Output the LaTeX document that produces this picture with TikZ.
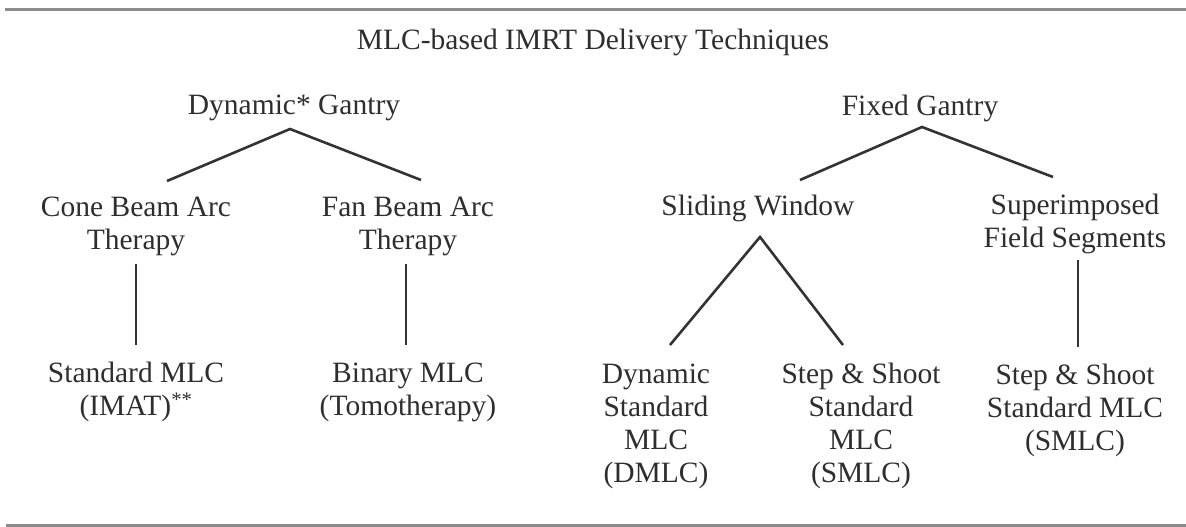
\documentclass[tikz,border=0pt]{standalone}
\usepackage{fontspec}
\setmainfont{Liberation Serif}
\begin{document}
\begin{tikzpicture}[x=1pt,y=-1pt,
  lbl/.style={inner sep=0pt,align=center,text=black!82,font=\fontsize{29.5}{33}\selectfont},
  conn/.style={draw=black!80,line width=2.6pt,line join=miter},
  rule/.style={draw=black!45,line width=3pt}]
\useasboundingbox (0,0) rectangle (1186,527);
% rules
\coordinate (rtl) at (5,10);
\coordinate (rtr) at (1186,10);
\coordinate (rbl) at (6,525);
\coordinate (rbr) at (1186,525);
\draw[rule] (rtl) -- (rtr);
\draw[rule] (rbl) -- (rbr);
% title
\node[lbl] (title) at (593,42) {MLC-based IMRT Delivery Techniques};
% level 1
\node[lbl] (dg) at (294,108) {Dynamic* Gantry};
\node[lbl] (fg) at (920,108) {Fixed Gantry};
% level 2
\node[lbl] (cb) at (136,226) {Cone Beam Arc\\Therapy};
\node[lbl] (fb) at (408,226) {Fan Beam Arc\\Therapy};
\node[lbl] (sw) at (758,208) {Sliding Window};
\node[lbl] (sf) at (1075,224) {Superimposed\\Field Segments};
% level 3
\node[lbl] (sm) at (136,392) {Standard MLC\\(IMAT)\textsuperscript{**}};
\node[lbl] (bm) at (408,392) {Binary MLC\\(Tomotherapy)};
\node[lbl] (dm) at (656,426) {Dynamic\\Standard\\MLC\\(DMLC)};
\node[lbl] (ss1) at (861,426) {Step \& Shoot\\Standard\\MLC\\(SMLC)};
\node[lbl] (ss2) at (1075,410) {Step \& Shoot\\Standard MLC\\(SMLC)};
% connector end points
\coordinate (dgA) at (290,129);
\coordinate (cbT) at (167,181);
\coordinate (fbT) at (421,180);
\coordinate (fgA) at (922,127);
\coordinate (swT) at (800,180);
\coordinate (sfT) at (1053,177);
\coordinate (swA) at (760,237);
\coordinate (dmT) at (670,345);
\coordinate (ss1T) at (843,345);
\coordinate (cbB) at (136,264);
\coordinate (smT) at (136,345);
\coordinate (fbB) at (406,264);
\coordinate (bmT) at (406,345);
\coordinate (sfB) at (1078,260);
\coordinate (ss2T) at (1078,347);
% connectors
\draw[conn] (cbT) -- (dgA) -- (fbT);
\draw[conn] (swT) -- (fgA) -- (sfT);
\draw[conn] (dmT) -- (swA) -- (ss1T);
\draw[conn] (cbB) -- (smT);
\draw[conn] (fbB) -- (bmT);
\draw[conn] (sfB) -- (ss2T);
\end{tikzpicture}
\end{document}
